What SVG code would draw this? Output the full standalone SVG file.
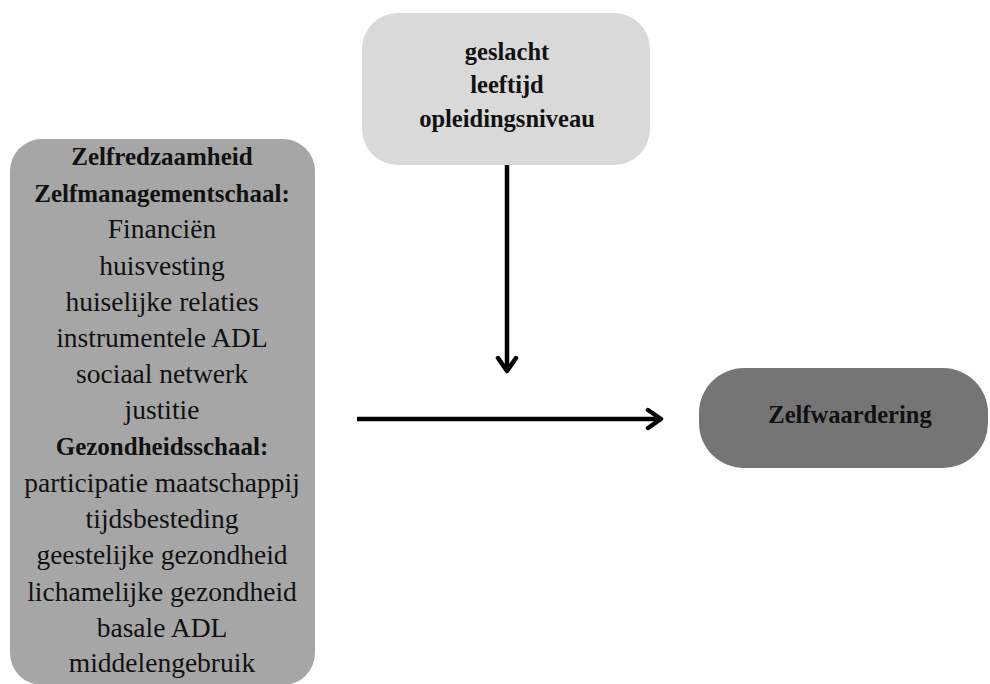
<svg xmlns="http://www.w3.org/2000/svg" width="990" height="684" viewBox="0 0 990 684">
  <defs>
    <style>
      text { font-family: "Liberation Serif", "Times New Roman", serif; fill: #111; text-anchor: middle; }
      .b { font-weight: bold; font-size: 25px; }
      .r { font-size: 27.5px; }
      .conn { stroke: #000; stroke-width: 4.5; fill: none; }
    </style>
    <marker id="arr" viewBox="-18 -12 22 24" refX="0" refY="0" markerWidth="22" markerHeight="24" markerUnits="userSpaceOnUse" orient="auto">
      <path d="M-13,-9 L0,0 L-13,9" fill="none" stroke="#000" stroke-width="4.5" stroke-linecap="round" stroke-linejoin="round"/>
    </marker>
  </defs>
  <rect width="990" height="684" fill="#fff"/>

  <g id="node-determinanten">
    <rect x="10" y="139" width="305" height="546" rx="32" ry="32" fill="#a6a6a6"/>
    <text class="b" x="162" y="165">Zelfredzaamheid</text>
    <text class="b" x="162" y="202">Zelfmanagementschaal:</text>
    <text class="r" x="162" y="238">Financiën</text>
    <text class="r" x="162" y="275">huisvesting</text>
    <text class="r" x="162" y="311">huiselijke relaties</text>
    <text class="r" x="162" y="347">instrumentele ADL</text>
    <text class="r" x="162" y="383">sociaal netwerk</text>
    <text class="r" x="162" y="419">justitie</text>
    <text class="b" x="162" y="455">Gezondheidsschaal:</text>
    <text class="r" x="162" y="492">participatie maatschappij</text>
    <text class="r" x="162" y="528">tijdsbesteding</text>
    <text class="r" x="162" y="564">geestelijke gezondheid</text>
    <text class="r" x="162" y="601">lichamelijke gezondheid</text>
    <text class="r" x="162" y="637">basale ADL</text>
    <text class="r" x="162" y="672">middelengebruik</text>
  </g>

  <g id="node-achtergrond">
    <rect x="362" y="13" width="288" height="152" rx="36" ry="36" fill="#d9d9d9"/>
    <text class="b" style="font-size:24.5px" x="507" y="60">geslacht</text>
    <text class="b" style="font-size:24.5px" x="507" y="93">leeftijd</text>
    <text class="b" style="font-size:24.5px" x="507" y="127">opleidingsniveau</text>
  </g>

  <g id="node-zelfwaardering">
    <rect x="699" y="368" width="289" height="100" rx="45" ry="45" fill="#757575"/>
    <text class="b" style="font-size:24.5px" x="850" y="423">Zelfwaardering</text>
  </g>

  <g id="connectors">
    <line class="conn" x1="507" y1="165" x2="507" y2="371" marker-end="url(#arr)"/>
    <line class="conn" x1="357" y1="419" x2="661" y2="419" marker-end="url(#arr)"/>
  </g>
</svg>
